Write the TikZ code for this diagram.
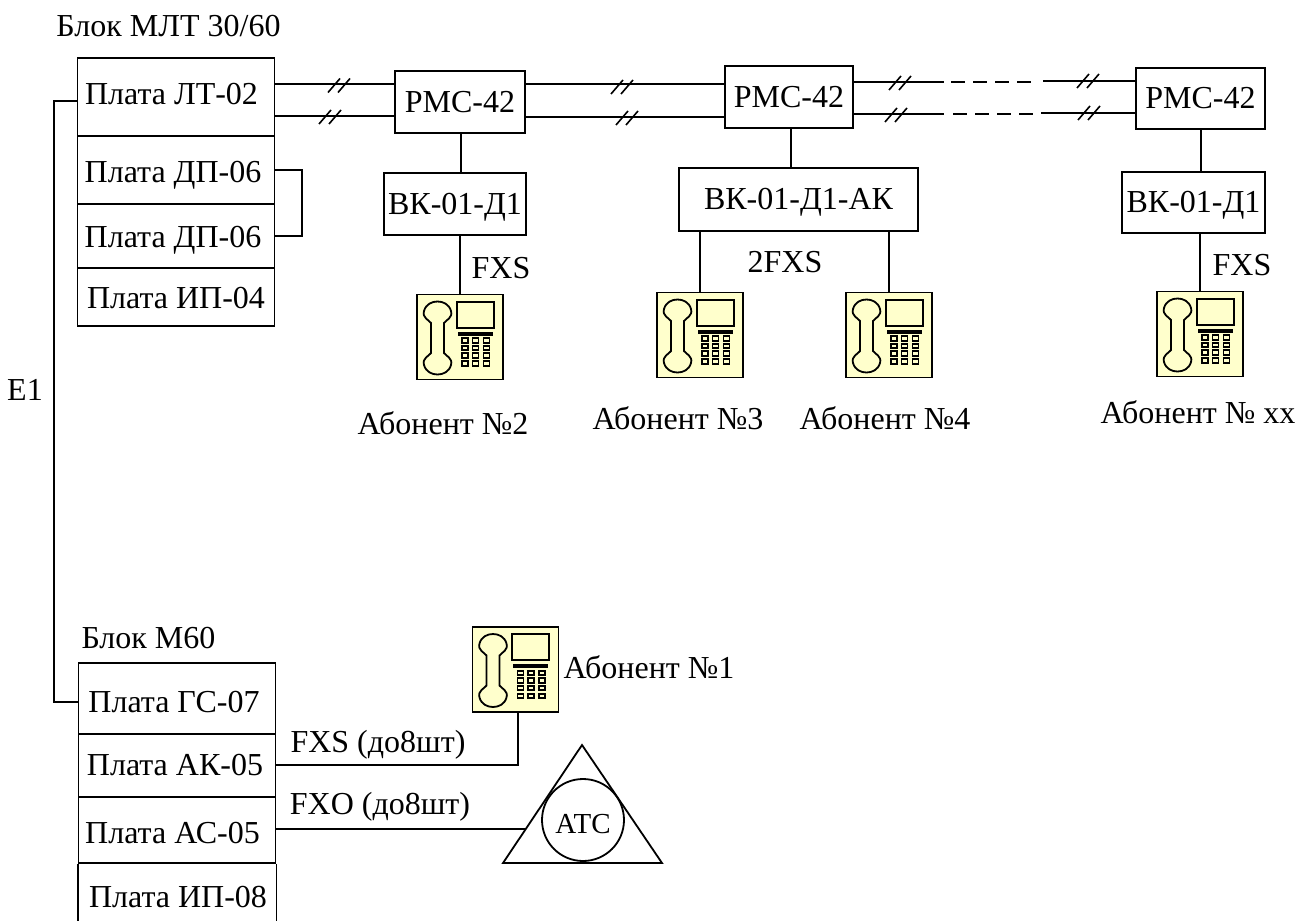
\documentclass[tikz,border=0pt]{standalone}
\usepackage{fontspec}
\setmainfont{Liberation Serif}
\definecolor{phoneyellow}{HTML}{FFFFCC}
\newcommand{\atline}[2]{\raisebox{#1}[0pt][0pt]{#2}}
\tikzset{
  every node/.style={font=\fontsize{32}{38}\selectfont, inner sep=0pt},
  wire/.style={line width=1.6pt},
  box/.style={draw, line width=1.8pt, rectangle},
  board/.style={box, minimum width=197pt},
  phonebox/.style={box, fill=phoneyellow, minimum width=86pt, minimum height=85pt},
  hatch/.pic={\draw[wire] (-11,7) -- (1,-7); \draw[wire] (-1,7) -- (11,-7);},
  phoneset/.pic={
    \draw[line width=1.8pt] (-16,-14) .. controls (-14,-17) and (-7,-19) .. (-9,-26) .. controls (-11,-33) and (-17,-35.5) .. (-22.5,-35.5) .. controls (-28,-35.5) and (-34,-33) .. (-36,-26) .. controls (-38,-19) and (-31,-17) .. (-29,-14) -- (-29,16) .. controls (-31,19) and (-38,21) .. (-36,28) .. controls (-34,35) and (-28,37.5) .. (-22.5,37.5) .. controls (-17,37.5) and (-11,35) .. (-9,28) .. controls (-7,21) and (-14,19) .. (-16,16) -- cycle;
    \draw[line width=2pt] (-3.5,-35.5) rectangle (33.5,-9.5);
    \fill (-2.5,-5.5) rectangle (32.5,-1.5);
    \foreach \x in {5,15.5,26.5} \foreach \y in {3.5,11,18.5,26.5} \draw[line width=1.8pt] (\x-3,\y-2.2) rectangle (\x+3,\y+2.2);
  }
}
\begin{document}
\begin{tikzpicture}[x=1pt,y=-1pt]
\useasboundingbox (0,0) rectangle (1298,921);
\node at (168.5,26) {Блок МЛТ 30/60};
\node at (148.5,638) {Блок М60};
\node[board, minimum height=78pt] (lt) at (176,97) {\hspace*{-9pt}\atline{-7pt}{Плата ЛТ-02}};
\node[board, minimum height=68pt] (dpa) at (176,170) {\hspace*{-6pt}\atline{-12.5pt}{Плата ДП-06}};
\node[board, minimum height=64pt] (dpb) at (176,236) {\hspace*{-6pt}\atline{-11.5pt}{Плата ДП-06}};
\node[board, minimum height=58pt] (ipa) at (176,297) {\atline{-11.5pt}{Плата ИП-04}};
\node[board, minimum height=71pt] (gs) at (177,698.5) {\hspace*{-6pt}\atline{-14pt}{Плата ГС-07}};
\node[board, minimum height=63pt] (ak) at (177,765.5) {\hspace*{-4pt}\atline{-10pt}{Плата АК-05}};
\node[board, minimum height=66pt] (ac) at (177,830) {\hspace*{-9pt}\atline{-13pt}{Плата АС-05}};
\draw[box] (ac.south west) -- (ac.west |- 0,921) (ac.south east) -- (ac.east |- 0,921);
\node at (178,897) {Плата ИП-08};
\node[box, minimum width=130pt, minimum height=62pt] (rmca) at (460,102) {РМС-42};
\node[box, minimum width=128pt, minimum height=62pt] (rmcb) at (789,97) {РМС-42};
\node[box, minimum width=129pt, minimum height=61pt] (rmcc) at (1200.5,98.5) {РМС-42};
\node[box, minimum width=142pt, minimum height=62pt] (vka) at (455,204) {\atline{-10.5pt}{ВК-01-Д1}};
\node[box, minimum width=239pt, minimum height=63pt] (vkb) at (798.5,199.5) {\atline{-10pt}{ВК-01-Д1-АК}};
\node[box, minimum width=143pt, minimum height=61pt] (vkc) at (1193.5,202.5) {\atline{-9.5pt}{ВК-01-Д1}};
\foreach \name/\x/\y in {tela/460/337, telb/700/335, telc/889/335, teld/1200/334, tele/515.5/669.5} {
  \node[phonebox] (\name) at (\x,\y) {};
  \pic at (\name) {phoneset};
}
\node[circle, draw, line width=1.8pt, minimum size=82pt, font=\fontsize{29}{34}\selectfont] (atc) at (583,820) {\atline{-13pt}{АТС}};
\draw[line width=1.8pt] (582,745) -- (503,863) -- (662,863) -- cycle;
\coordinate (atcin) at (526,829);
\coordinate (bus) at (54,101);
\coordinate (busb) at (54,702);
\coordinate (jump) at (302,170);
\coordinate (corner) at (518,765);
\draw[wire] (lt.west |- bus) -- (bus) -- (busb) -- (gs.west |- busb);
\draw[wire] (dpa.east) -- (jump) -- (jump |- dpb.east) -- (dpb.east);
\foreach \y in {84,116} \draw[wire] (lt.east |- 0,\y) -- (rmca.west |- 0,\y);
\foreach \y in {84,117} \draw[wire] (rmca.east |- 0,\y) -- (rmcb.west |- 0,\y);
\draw[wire] (rmcb.east |- 0,82) -- (944,82);
\draw[wire] (rmcb.east |- 0,114) -- (944,114);
\draw[wire, dash pattern=on 14pt off 8pt] (951,82) -- (1036,82);
\draw[wire, dash pattern=on 14pt off 8pt] (953,114) -- (1038,114);
\draw[wire] (1043,81) -- (rmcc.west |- 0,81);
\draw[wire] (1041,113) -- (rmcc.west |- 0,113);
\foreach \x/\y in {339/85.5, 330/117, 622/87, 627/118, 900/83, 896/115, 1088/81, 1089/113} \pic at (\x,\y) {hatch};
\draw[wire] (rmca.south -| 461,0) -- (vka.north -| 461,0);
\draw[wire] (vka.south -| tela) -- (tela.north);
\draw[wire] (rmcb.south -| 791,0) -- (vkb.north -| 791,0);
\draw[wire] (vkb.south -| telb) -- (telb.north);
\draw[wire] (vkb.south -| telc) -- (telc.north);
\draw[wire] (rmcc.south -| 1201,0) -- (vkc.north -| 1201,0);
\draw[wire] (vkc.south -| teld) -- (teld.north);
\draw[wire] (tele.south -| corner) -- (corner) -- (corner -| ak.east);
\draw[wire] (ac.east |- atcin) -- (atcin);
\node at (25,390) {E1};
\node at (501,268) {FXS};
\node at (785,262) {2FXS};
\node at (1242,265) {FXS};
\node at (443,423) {Абонент №2};
\node at (678,418) {Абонент №3};
\node at (885,418) {Абонент №4};
\node at (1198,412) {Абонент № xx};
\node at (649,667) {Абонент №1};
\node at (378,745) {FXS (до8шт)};
\node at (380,807) {FXO (до8шт)};
\end{tikzpicture}
\end{document}
